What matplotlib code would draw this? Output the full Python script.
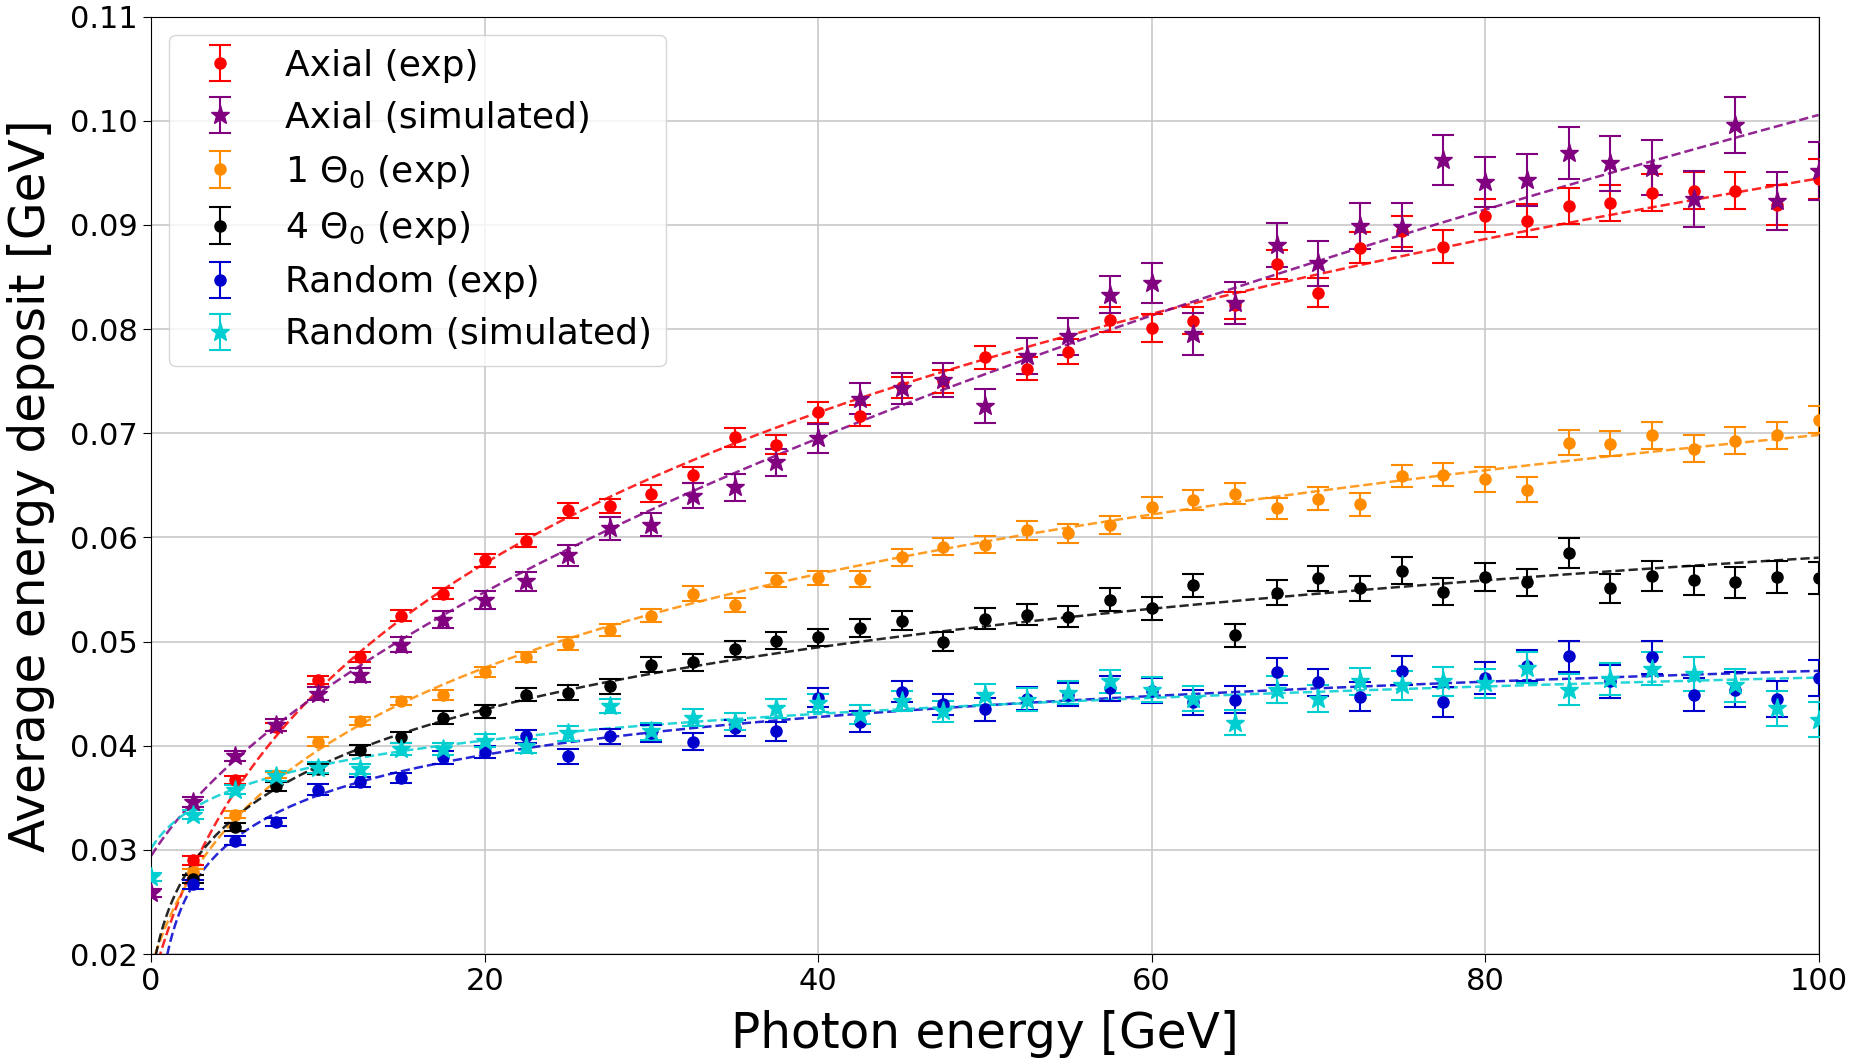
# Average energy deposit vs photon energy, with fitted curves

import numpy as np
import matplotlib
matplotlib.use("Agg")
import matplotlib.pyplot as plt

energy_exp = [2.5, 5, 7.5, 10, 12.5, 15, 17.5, 20, 22.5, 25, 27.5, 30, 32.5, 35, 37.5, 40,
              42.5, 45, 47.5, 50, 52.5, 55, 57.5, 60, 62.5, 65, 67.5, 70, 72.5, 75, 77.5, 80,
              82.5, 85, 87.5, 90, 92.5, 95, 97.5, 100]
energy_sim = [0] + energy_exp

axial_exp = [0.0290, 0.0367, 0.0418, 0.0463, 0.0485, 0.0525, 0.0546, 0.0578, 0.0597, 0.0626,
             0.0630, 0.0642, 0.0660, 0.0696, 0.0689, 0.0720, 0.0717, 0.0744, 0.0750, 0.0773,
             0.0762, 0.0778, 0.0809, 0.0801, 0.0808, 0.0823, 0.0862, 0.0835, 0.0878, 0.0894,
             0.0879, 0.0909, 0.0904, 0.0918, 0.0921, 0.0931, 0.0933, 0.0933, 0.0919, 0.0944]
axial_exp_err = [0.0004, 0.0004, 0.0004, 0.0004, 0.0005, 0.0005, 0.0005, 0.0006, 0.0006, 0.0007,
                 0.0007, 0.0008, 0.0008, 0.0009, 0.0009, 0.0010, 0.0010, 0.0010, 0.0011, 0.0011,
                 0.0011, 0.0012, 0.0012, 0.0013, 0.0013, 0.0013, 0.0014, 0.0014, 0.0015, 0.0015,
                 0.0016, 0.0016, 0.0016, 0.0017, 0.0017, 0.0018, 0.0018, 0.0018, 0.0019, 0.0019]

axial_sim = [0.0259, 0.0346, 0.0390, 0.0420, 0.0450, 0.0468, 0.0497, 0.0521, 0.0540, 0.0558,
             0.0583, 0.0609, 0.0612, 0.0640, 0.0648, 0.0672, 0.0695, 0.0733, 0.0743, 0.0751,
             0.0726, 0.0774, 0.0793, 0.0833, 0.0844, 0.0795, 0.0825, 0.0881, 0.0863, 0.0899,
             0.0898, 0.0962, 0.0941, 0.0943, 0.0969, 0.0959, 0.0955, 0.0925, 0.0996, 0.0923,
             0.0952]
axial_sim_err = [0.0004, 0.0005, 0.0005, 0.0006, 0.0006, 0.0007, 0.0007, 0.0008, 0.0009, 0.0009,
                 0.0010, 0.0011, 0.0011, 0.0012, 0.0013, 0.0013, 0.0014, 0.0015, 0.0015, 0.0016,
                 0.0016, 0.0017, 0.0018, 0.0018, 0.0019, 0.0020, 0.0020, 0.0021, 0.0022, 0.0022,
                 0.0023, 0.0024, 0.0024, 0.0025, 0.0025, 0.0026, 0.0026, 0.0027, 0.0027, 0.0028,
                 0.0028]

theta1_exp = [0.0279, 0.0334, 0.0372, 0.0404, 0.0424, 0.0443, 0.0449, 0.0471, 0.0485, 0.0498,
              0.0511, 0.0525, 0.0546, 0.0535, 0.0559, 0.0561, 0.0560, 0.0581, 0.0591, 0.0593,
              0.0607, 0.0604, 0.0612, 0.0629, 0.0636, 0.0642, 0.0628, 0.0637, 0.0632, 0.0659,
              0.0660, 0.0656, 0.0646, 0.0691, 0.0690, 0.0698, 0.0685, 0.0693, 0.0698, 0.0713]
theta1_exp_err = [0.0003, 0.0003, 0.0003, 0.0004, 0.0004, 0.0004, 0.0005, 0.0005, 0.0005, 0.0006,
                  0.0006, 0.0006, 0.0007, 0.0007, 0.0007, 0.0007, 0.0008, 0.0008, 0.0008, 0.0008,
                  0.0009, 0.0009, 0.0009, 0.0010, 0.0010, 0.0010, 0.0010, 0.0011, 0.0011, 0.0011,
                  0.0011, 0.0012, 0.0012, 0.0012, 0.0012, 0.0013, 0.0013, 0.0013, 0.0013, 0.0013]

theta4_exp = [0.0272, 0.0322, 0.0361, 0.0378, 0.0396, 0.0408, 0.0427, 0.0433, 0.0449, 0.0451,
              0.0457, 0.0478, 0.0480, 0.0493, 0.0501, 0.0504, 0.0513, 0.0520, 0.0500, 0.0522,
              0.0526, 0.0524, 0.0540, 0.0532, 0.0554, 0.0506, 0.0547, 0.0561, 0.0551, 0.0568,
              0.0548, 0.0562, 0.0557, 0.0585, 0.0551, 0.0563, 0.0559, 0.0557, 0.0562, 0.0561]
theta4_exp_err = [0.0004, 0.0004, 0.0004, 0.0005, 0.0005, 0.0005, 0.0006, 0.0006, 0.0006, 0.0007,
                  0.0007, 0.0007, 0.0008, 0.0008, 0.0008, 0.0008, 0.0009, 0.0009, 0.0009, 0.0010,
                  0.0010, 0.0010, 0.0011, 0.0011, 0.0011, 0.0011, 0.0012, 0.0012, 0.0012, 0.0013,
                  0.0013, 0.0013, 0.0013, 0.0014, 0.0014, 0.0014, 0.0014, 0.0015, 0.0015, 0.0015]

random_exp = [0.0267, 0.0309, 0.0327, 0.0358, 0.0365, 0.0369, 0.0389, 0.0394, 0.0409, 0.0390,
              0.0409, 0.0412, 0.0404, 0.0417, 0.0414, 0.0446, 0.0423, 0.0452, 0.0440, 0.0435,
              0.0445, 0.0449, 0.0455, 0.0453, 0.0442, 0.0444, 0.0471, 0.0461, 0.0447, 0.0472,
              0.0442, 0.0465, 0.0477, 0.0486, 0.0462, 0.0485, 0.0449, 0.0454, 0.0445, 0.0465]
random_exp_err = [0.0004, 0.0004, 0.0004, 0.0005, 0.0005, 0.0005, 0.0006, 0.0006, 0.0006, 0.0007,
                  0.0007, 0.0008, 0.0008, 0.0008, 0.0009, 0.0009, 0.0010, 0.0010, 0.0010, 0.0011,
                  0.0011, 0.0011, 0.0012, 0.0012, 0.0012, 0.0013, 0.0013, 0.0013, 0.0014, 0.0014,
                  0.0014, 0.0015, 0.0015, 0.0015, 0.0016, 0.0016, 0.0016, 0.0017, 0.0017, 0.0017]

random_sim = [0.0274, 0.0334, 0.0358, 0.0371, 0.0379, 0.0378, 0.0397, 0.0397, 0.0405, 0.0400,
              0.0412, 0.0438, 0.0414, 0.0427, 0.0423, 0.0436, 0.0441, 0.0430, 0.0443, 0.0433,
              0.0449, 0.0444, 0.0451, 0.0462, 0.0454, 0.0445, 0.0422, 0.0454, 0.0445, 0.0462,
              0.0458, 0.0462, 0.0460, 0.0475, 0.0454, 0.0464, 0.0474, 0.0469, 0.0458, 0.0436,
              0.0425]
random_sim_err = [0.0004, 0.0004, 0.0004, 0.0005, 0.0005, 0.0005, 0.0006, 0.0006, 0.0006, 0.0007,
                  0.0007, 0.0007, 0.0008, 0.0008, 0.0008, 0.0009, 0.0009, 0.0009, 0.0010, 0.0010,
                  0.0010, 0.0011, 0.0011, 0.0011, 0.0012, 0.0012, 0.0012, 0.0013, 0.0013, 0.0013,
                  0.0014, 0.0014, 0.0014, 0.0015, 0.0015, 0.0015, 0.0016, 0.0016, 0.0016, 0.0017,
                  0.0017]

# label, x, y, err, color, marker, (c, p) of the fit  y = A + B*(E + c)**p  (p = 0 -> log)
series = [
    ("Axial (exp)", energy_exp, axial_exp, axial_exp_err, "red", "o", (2.5, 0.15)),
    ("Axial (simulated)", energy_sim, axial_sim, axial_sim_err, "purple", "*", (2.0, 0.55)),
    (r"1 $\Theta_0$ (exp)", energy_exp, theta1_exp, theta1_exp_err, "darkorange", "o", (2.0, 0.1)),
    (r"4 $\Theta_0$ (exp)", energy_exp, theta4_exp, theta4_exp_err, "black", "o", (0.5, 0.1)),
    ("Random (exp)", energy_exp, random_exp, random_exp_err, "mediumblue", "o", (0.0, -0.1)),
    ("Random (simulated)", energy_sim, random_sim, random_sim_err, "darkturquoise", "*", (1.5, 0.0)),
]


def basis(E, c, p):
    if p == 0:
        return np.log(E + c)
    return (E + c) ** p


fig = plt.figure(figsize=(18.52, 10.59), dpi=100)
ax = fig.add_axes([0.0816, 0.099, 0.9004, 0.8854])

E_fit = np.linspace(0.01, 100, 2000)

for label, x, y, err, col, mk, (c, p) in series:
    x = np.array(x)
    y = np.array(y)
    ms = 14 if mk == "*" else 8
    ax.errorbar(x, y, yerr=err, fmt=mk, color=col, ms=ms, capsize=8,
                elinewidth=1.5, capthick=1.5, label=label, zorder=3)
    # least squares fit, E > 0 only
    sel = x > 0
    A = np.vstack([np.ones(sel.sum()), basis(x[sel], c, p)]).T
    w = np.linalg.lstsq(A, y[sel], rcond=None)[0]
    line = w[0] + w[1] * basis(E_fit, c, p)
    ax.plot(E_fit, line, "--", color=col, lw=1.8, alpha=0.85, zorder=2)

ax.set_xlim(0, 100)
ax.set_ylim(0.02, 0.11)
ax.set_xticks([0, 20, 40, 60, 80, 100])
ax.set_yticks(np.arange(0.02, 0.111, 0.01))
ax.set_yticklabels(["%.2f" % v for v in np.arange(0.02, 0.111, 0.01)])
ax.tick_params(labelsize=22, length=6)
ax.grid(True, color="#c8c8c8", lw=1.2)
ax.set_axisbelow(True)
ax.set_xlabel("Photon energy [GeV]", fontsize=35, labelpad=10)
ax.set_ylabel("Average energy deposit [GeV]", fontsize=35, labelpad=11)
ax.legend(loc="upper left", fontsize=26)

fig.savefig("out.png", dpi=100)
